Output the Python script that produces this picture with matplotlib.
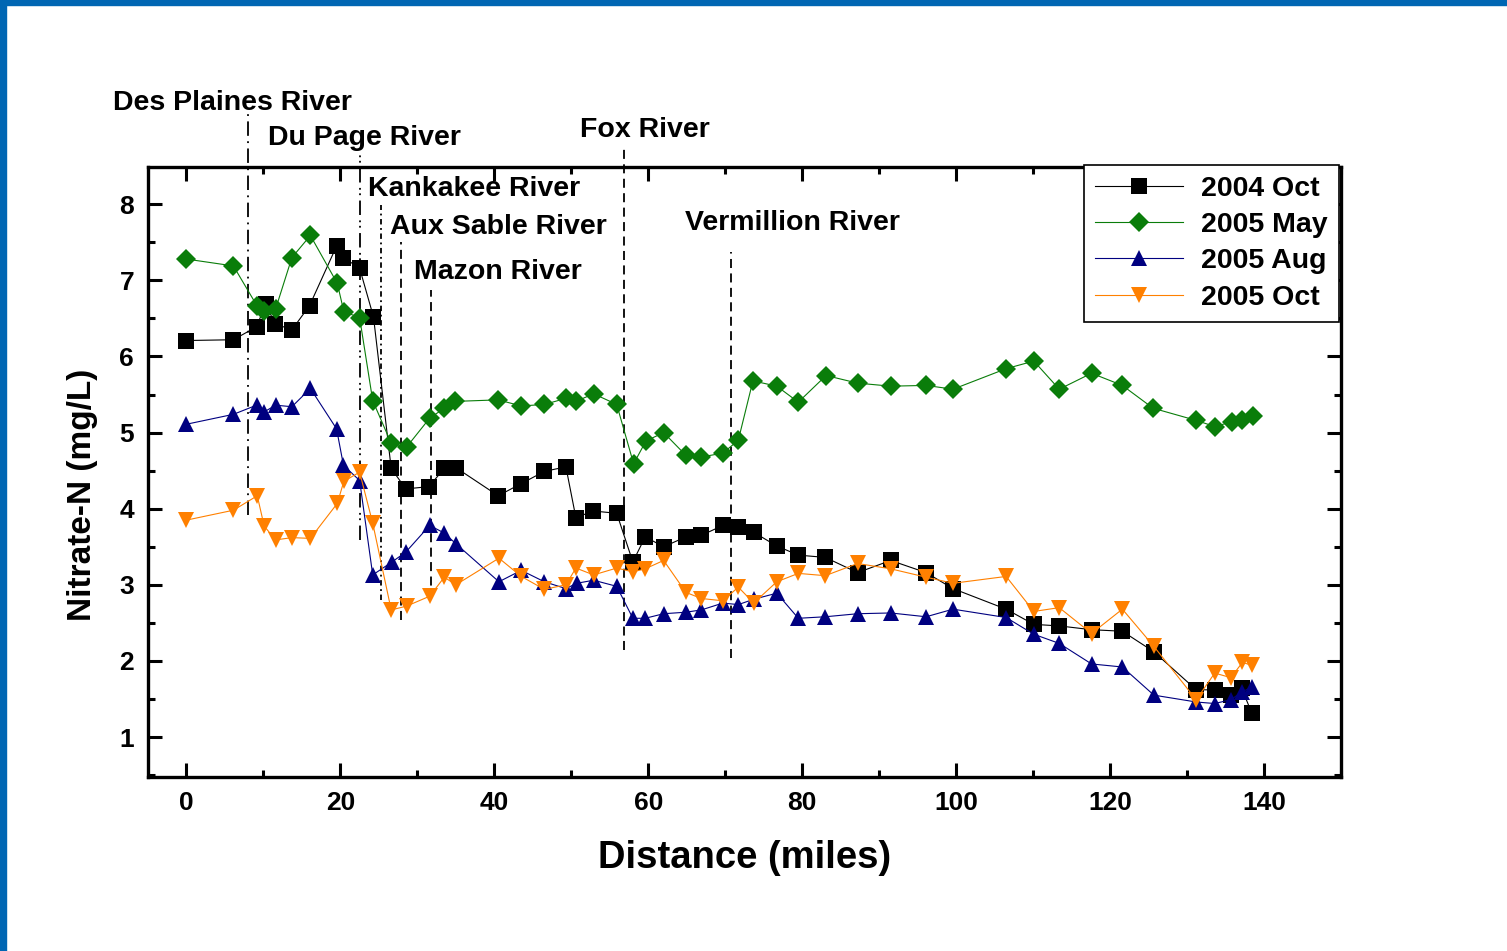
import matplotlib
matplotlib.use("Agg")
import matplotlib.pyplot as plt
from matplotlib.patches import Rectangle
from matplotlib.ticker import MultipleLocator

plt.rcParams['font.family'] = ['Liberation Sans', 'DejaVu Sans']
plt.rcParams['font.weight'] = 'bold'

# ---- data ----
x_2004oct = [0, 6.1, 9.1, 10.3, 11.5, 13.7, 16.0, 19.5, 20.4, 22.5, 24.3, 26.6, 28.5, 31.5, 33.5, 35.0,
             40.5, 43.5, 46.5, 49.3, 50.6, 52.8, 55.9, 58.0, 59.6, 62.0, 64.9, 66.9, 69.7, 71.7, 73.7,
             76.7, 79.5, 83.0, 87.2, 91.5, 96.1, 99.6, 106.5, 110.1, 113.4, 117.6, 121.6, 125.7,
             131.2, 133.6, 135.7, 137.1, 138.4]
y_2004oct = [6.21, 6.22, 6.39, 6.69, 6.43, 6.35, 6.67, 7.45, 7.30, 7.16, 6.52, 4.53, 4.26, 4.29, 4.53, 4.54,
             4.17, 4.33, 4.49, 4.55, 3.88, 3.97, 3.94, 3.30, 3.63, 3.50, 3.63, 3.65, 3.78, 3.76, 3.69,
             3.51, 3.39, 3.36, 3.16, 3.32, 3.16, 2.95, 2.68, 2.48, 2.46, 2.41, 2.39, 2.12,
             1.62, 1.62, 1.55, 1.64, 1.32]

x_2005may = [0, 6.1, 9.2, 10.1, 11.6, 13.7, 16.1, 19.6, 20.45, 22.5, 24.2, 26.6, 28.6, 31.6, 33.5, 34.9,
             40.5, 43.5, 46.5, 49.3, 50.6, 52.9, 55.9, 58.1, 59.7, 62.0, 64.9, 66.9, 69.7, 71.7, 73.6,
             76.7, 79.5, 83.1, 87.2, 91.5, 96.1, 99.6, 106.5, 110.1, 113.4, 117.6, 121.6, 125.6,
             131.2, 133.6, 135.8, 137.2, 138.6]
y_2005may = [7.28, 7.19, 6.66, 6.60, 6.63, 7.30, 7.59, 6.96, 6.59, 6.51, 5.42, 4.86, 4.81, 5.19, 5.32, 5.41,
             5.43, 5.35, 5.37, 5.45, 5.41, 5.51, 5.37, 4.59, 4.89, 5.00, 4.70, 4.68, 4.73, 4.90, 5.68,
             5.61, 5.40, 5.75, 5.65, 5.61, 5.62, 5.57, 5.84, 5.94, 5.57, 5.78, 5.62, 5.32,
             5.16, 5.08, 5.14, 5.17, 5.22]

x_2005aug = [0, 6.1, 9.1, 10.05, 11.6, 13.7, 16.1, 19.5, 20.4, 22.5, 24.2, 26.7, 28.5, 31.6, 33.5, 35.0,
             40.6, 43.5, 46.5, 49.3, 50.7, 52.9, 55.9, 58.0, 59.6, 62.0, 64.9, 66.9, 69.7, 71.7, 73.7,
             76.7, 79.5, 83.0, 87.2, 91.5, 96.1, 99.6, 106.5, 110.1, 113.4, 117.6, 121.6, 125.7,
             131.2, 133.6, 135.7, 137.1, 138.5]
y_2005aug = [5.11, 5.24, 5.36, 5.27, 5.36, 5.34, 5.58, 5.05, 4.57, 4.37, 3.13, 3.30, 3.43, 3.78, 3.68, 3.54,
             3.04, 3.19, 3.04, 2.95, 3.02, 3.06, 2.98, 2.56, 2.56, 2.62, 2.64, 2.67, 2.76, 2.74, 2.81,
             2.89, 2.56, 2.58, 2.62, 2.63, 2.58, 2.68, 2.57, 2.35, 2.23, 1.96, 1.92, 1.55,
             1.46, 1.44, 1.49, 1.59, 1.66]

x_2005oct = [0, 6.1, 9.2, 10.1, 11.6, 13.7, 16.1, 19.6, 20.45, 22.5, 24.2, 26.6, 28.6, 31.6, 33.5, 35.0,
             40.6, 43.5, 46.5, 49.3, 50.6, 52.9, 55.9, 58.0, 59.6, 62.0, 64.9, 66.9, 69.7, 71.7, 73.7,
             76.7, 79.5, 83.0, 87.2, 91.5, 96.1, 99.6, 106.5, 110.1, 113.4, 117.6, 121.6, 125.7,
             131.2, 133.6, 135.7, 137.2, 138.5]
y_2005oct = [3.85, 3.98, 4.17, 3.77, 3.59, 3.62, 3.61, 4.07, 4.36, 4.48, 3.81, 2.67, 2.72, 2.85, 3.10, 3.00,
             3.35, 3.11, 2.94, 3.00, 3.22, 3.13, 3.22, 3.17, 3.21, 3.32, 2.90, 2.82, 2.79, 2.97, 2.76,
             3.04, 3.15, 3.12, 3.28, 3.21, 3.10, 3.02, 3.11, 2.65, 2.70, 2.36, 2.68, 2.19,
             1.49, 1.84, 1.78, 1.98, 1.94]

rivers = ["Des Plaines River", "Du Page River", "Kankakee River", "Aux Sable River",
          "Mazon River", "Fox River", "Vermillion River"]
river_miles = [8.0, 22.6, 25.3, 27.9, 31.8, 56.8, 70.8]

# ---- figure ----
fig = plt.figure(figsize=(15.07, 9.51), dpi=100)
ax = fig.add_axes([0.0982, 0.183, 0.7916, 0.6414])

series = [
    (x_2004oct, y_2004oct, '2004 Oct', 's', '#000000', 11),
    (x_2005may, y_2005may, '2005 May', 'D', '#0A7D0A', 10),
    (x_2005aug, y_2005aug, '2005 Aug', '^', '#000080', 12),
    (x_2005oct, y_2005oct, '2005 Oct', 'v', '#FF8000', 12),
]
for xs, ys, lab, mk, col, ms in series:
    ax.plot(xs, ys, color=col, lw=0.8, marker=mk, markersize=ms,
            markeredgewidth=0, label=lab)

# river marker lines
line_styles = [(0, (8, 3, 1, 3)), (0, (8, 3, 1, 2, 1, 3)), (0, (3, 2, 1, 2)),
               (0, (5, 3)), (0, (5, 3)), (0, (5, 3)), (0, (5, 3))]
line_top = [9.21, 8.74, 7.99, 7.50, 6.87, 8.74, 7.37]
line_bot = [3.92, 3.59, 2.80, 2.54, 2.80, 2.14, 2.04]
for xm, ls, yt, yb in zip(river_miles, line_styles, line_top, line_bot):
    ax.plot([xm, xm], [yb, yt], color='black', lw=1.3, linestyle=ls, clip_on=False, zorder=1)

label_pos = [(-9.49, 9.33), (10.53, 8.87), (23.53, 8.20), (26.39, 7.70),
             (29.51, 7.11), (51.1, 8.97), (64.74, 7.75)]
for name, (tx, ty) in zip(rivers, label_pos):
    ax.text(tx, ty, name, fontsize=20.5, fontweight='bold', ha='left', va='center',
            clip_on=False, zorder=5)

ax.set_xlim(-5, 150)
ax.set_ylim(0.475, 8.49)
ax.xaxis.set_minor_locator(MultipleLocator(10))
ax.yaxis.set_minor_locator(MultipleLocator(0.5))
ax.set_xticks([0, 20, 40, 60, 80, 100, 120, 140])
ax.set_yticks([1, 2, 3, 4, 5, 6, 7, 8])

ax.tick_params(which='both', direction='in', top=True, right=True, width=2.2)
ax.tick_params(which='major', length=10, labelsize=19, pad=10)
ax.tick_params(which='minor', length=5)
for lbl in ax.get_xticklabels() + ax.get_yticklabels():
    lbl.set_fontweight('bold')
for sp in ax.spines.values():
    sp.set_linewidth(2.4)

ax.set_xlabel('Distance (miles)', fontsize=27.5, fontweight='bold')
ax.xaxis.set_label_coords(0.5, -0.103)
ax.set_ylabel('Nitrate-N (mg/L)', fontsize=24, fontweight='bold')
ax.yaxis.set_label_coords(-0.042, 0.462)

leg = ax.legend(loc='upper right', bbox_to_anchor=(0.998, 1.004), borderaxespad=0,
                prop={'weight': 'bold', 'size': 20.5}, fancybox=False,
                framealpha=1, edgecolor='black', handlelength=3.1, labelspacing=0.36,
                borderpad=0.4, handletextpad=0.6)
leg.get_frame().set_linewidth(1.2)

# blue border
fig.patches.append(Rectangle((0, 1 - 5 / 951), 1, 5 / 951, transform=fig.transFigure,
                             color='#0066B3', zorder=10))
fig.patches.append(Rectangle((0, 0), 6 / 1507, 1, transform=fig.transFigure,
                             color='#0066B3', zorder=10))

fig.savefig('out.png', dpi=100)
